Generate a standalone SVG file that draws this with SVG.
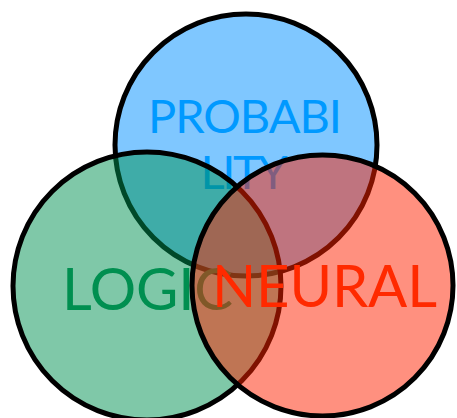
<svg xmlns="http://www.w3.org/2000/svg" width="457" height="418" viewBox="0 0 457 418">
<style>
.c{stroke:#000;stroke-width:5;fill-opacity:0.5}
.t{font-family:Lato,"Open Sans","DejaVu Sans",sans-serif;text-anchor:middle}
</style>
<rect width="457" height="418" fill="#fff"/>
<g id="probability">
<circle class="c" cx="246" cy="145" r="131" fill="#0090ff"/>
<text class="t" x="245" y="133" font-size="47" fill="#0099ff" textLength="194" lengthAdjust="spacing">PROBABI</text>
<text class="t" x="244" y="189" font-size="47" fill="#0099ff" textLength="87" lengthAdjust="spacing">LITY</text>
</g>
<g id="logic">
<circle class="c" cx="147" cy="286" r="134" fill="#009151"/>
<text class="t" x="147.5" y="310" font-size="58" fill="#008f50" textLength="171" lengthAdjust="spacing">LOGIC</text>
</g>
<g id="neural">
<circle class="c" cx="322.5" cy="285.5" r="130.5" fill="#ff2100"/>
<text class="t" x="324.5" y="307" font-size="58" fill="#ff2a00" textLength="225" lengthAdjust="spacing">NEURAL</text>
</g>
<g id="connectors"/>
</svg>
